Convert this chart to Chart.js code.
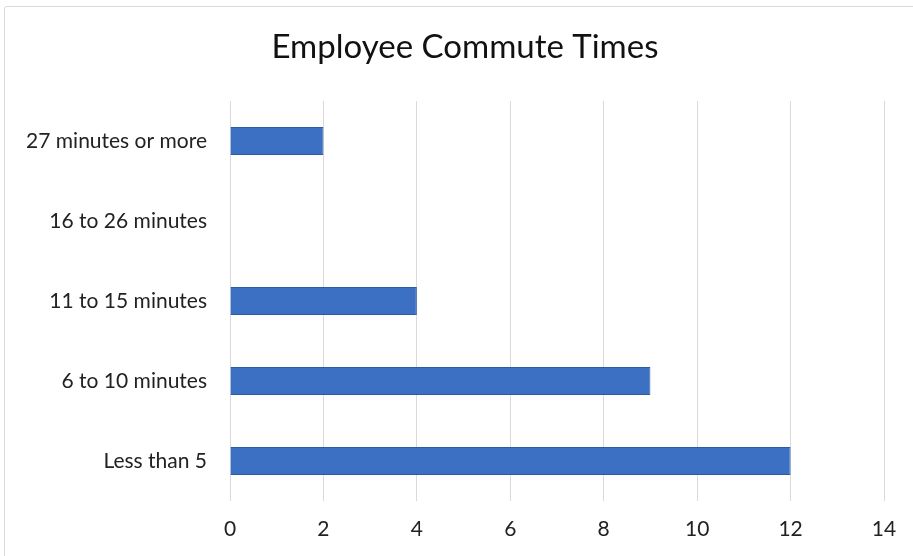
<!DOCTYPE html>
<html>
<head>
<meta charset="utf-8">
<script src="https://cdn.jsdelivr.net/npm/chart.js@4"></script>
<style>
  html, body { margin: 0; padding: 0; background: #ffffff; }
  #frame { position: absolute; left: 4px; top: 6px; width: 1000px; height: 600px;
           border: 1px solid #d9d9d9; border-radius: 3px; }
  #wrap { position: absolute; left: 0; top: 0; width: 913px; height: 556px; }
</style>
</head>
<body>
<div id="frame"></div>
<div id="wrap"><canvas id="c" width="913" height="556"></canvas></div>
<script>
// Commute bands, top to bottom as listed on the chart
const categories = ["27 minutes or more", "16 to 26 minutes", "11 to 15 minutes", "6 to 10 minutes", "Less than 5"];
// Number of employees in each band
const employees = [2, 0, 4, 9, 12];
// Horizontal axis ticks
const xTicks = [0, 2, 4, 6, 8, 10, 12, 14];

const font = "Lato, 'Open Sans', 'Liberation Sans', sans-serif";

// Center the title over the frame rather than the padded canvas
const titleShift = {
  id: "titleShift",
  afterLayout(chart) {
    if (chart.titleBlock) chart.titleBlock.left += 46;
  }
};

new Chart(document.getElementById("c"), {
  type: "bar",
  data: {
    labels: categories,
    datasets: [{
      label: "Employees",
      data: employees,
      backgroundColor: "#3c70c2",
      borderColor: "#2b5ba6",
      borderWidth: 1,
      barPercentage: 0.7,
      categoryPercentage: 0.5
    }]
  },
  options: {
    indexAxis: "y",
    responsive: false,
    animation: false,
    layout: { padding: { left: 0, right: 29, top: 0, bottom: 0 } },
    plugins: {
      legend: { display: false },
      tooltip: { enabled: false },
      title: {
        display: true,
        text: "Employee Commute Times",
        color: "#111111",
        font: { family: font, size: 33, weight: "normal" },
        padding: { top: 28, bottom: 33.4 }
      }
    },
    scales: {
      x: {
        min: xTicks[0],
        max: xTicks[xTicks.length - 1],
        afterBuildTicks: (s) => { s.ticks = xTicks.map(v => ({ value: v })); },
        afterFit: (s) => { s.height = 55; },
        grid: { color: "#d9d9d9", lineWidth: 1, drawTicks: false },
        border: { display: false },
        ticks: { color: "#222222", font: { family: font, size: 21 }, padding: 16 }
      },
      y: {
        afterFit: (s) => { s.width = 230; },
        grid: { display: false, drawTicks: false },
        border: { display: false },
        ticks: { color: "#222222", font: { family: font, size: 21 }, padding: 23 }
      }
    }
  },
  plugins: [titleShift]
});
</script>
</body>
</html>
